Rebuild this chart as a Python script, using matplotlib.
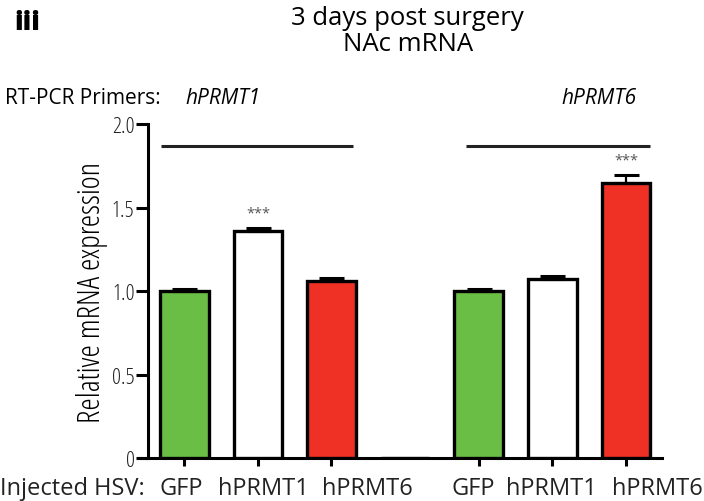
import numpy as np
import matplotlib.pyplot as plt
from matplotlib import rcParams
from matplotlib.transforms import blended_transform_factory

rcParams['font.family'] = 'sans-serif'
rcParams['font.sans-serif'] = ['Open Sans', 'DejaVu Sans']

# bar slots: two primer groups, slot 3 is the empty spacer between them
positions = [0, 1, 2, 3, 4, 5, 6]
injected = ['GFP', 'hPRMT1', 'hPRMT6', '', 'GFP', 'hPRMT1', 'hPRMT6']
means = [1.00, 1.36, 1.06, 0.0, 1.00, 1.07, 1.65]
sems = [0.012, 0.02, 0.016, 0.0, 0.012, 0.018, 0.045]
colors = ['#6abd45', 'white', '#ee3124', 'white', '#6abd45', 'white', '#ee3124']
stars = {1: '***', 6: '***'}
primers = ['hPRMT1', 'hPRMT6']
group_lines = [(-0.31, 2.29), (3.83, 6.32)]
line_y = 1.87
# the HSV names are set as a run of text under each group, not centred on ticks
label_x = [-0.04, 1.07, 2.49, None, 3.93, 4.99, 6.43]

fig = plt.figure(figsize=(7.04, 5.02), dpi=100)
ax = fig.add_axes([0.1974, 0.0857, 0.743, 0.665])

ax.bar(positions, means, width=0.66, color=colors, edgecolor='black',
       linewidth=2.4, zorder=3)
for x, m, e in zip(positions, means, sems):
    if e > 0:
        ax.errorbar(x, m, yerr=[[0], [e]], fmt='none', ecolor='black',
                    elinewidth=1.6, capsize=9, capthick=2.2, zorder=3)

for x, s in stars.items():
    ax.text(x, means[x] + sems[x] + 0.09, s, ha='center', va='center',
            fontsize=10.5, color='#555555')

for x0, x1 in group_lines:
    ax.plot([x0, x1], [line_y, line_y], color='#222222', lw=2.2,
            solid_capstyle='butt', clip_on=False)

ax.set_xlim(-0.615, 6.49)
ax.set_ylim(0, 2.0)

for side in ['top', 'right']:
    ax.spines[side].set_visible(False)
ax.spines['left'].set_position(('data', -0.497))
ax.spines['left'].set_linewidth(2.2)
ax.spines['bottom'].set_linewidth(2.2)

ax.set_yticks([0, 0.5, 1.0, 1.5, 2.0])
ax.set_yticklabels(['0', '0.5', '1.0', '1.5', '2.0'], color='#222222',
                   fontsize=16, fontstretch='condensed')
ax.tick_params(axis='y', direction='out', length=8.5, width=2.2, pad=1)

tick_pos = [p for p, lab in zip(positions, injected) if lab]
ax.set_xticks(tick_pos)
ax.set_xticklabels([])
ax.tick_params(axis='x', direction='out', length=6, width=2.2)

for lx, lab in zip(label_x, injected):
    if lab:
        ax.text(lx, -0.216, lab, fontsize=17, ha='center', va='baseline',
                color='#222222', clip_on=False)

ax.set_ylabel('Relative mRNA expression', fontsize=22.5,
              fontstretch='condensed', labelpad=3)

trans = blended_transform_factory(fig.transFigure, ax.transData)
ax.text(0.0, -0.216, 'Injected HSV:', transform=trans, fontsize=17,
        ha='left', va='baseline', color='#222222', clip_on=False)

ax.text(0.007, 2.16, 'RT-PCR Primers:', transform=trans, fontsize=15,
        ha='left', va='center', clip_on=False)
for x, name in zip([0.52, 5.63], primers):
    ax.text(x, 2.16, name, fontsize=15, style='italic', ha='center',
            va='center', clip_on=False)

fig.text(0.579, 0.963, '3 days post surgery', fontsize=18.5, ha='center',
         va='center')
fig.text(0.579, 0.911, 'NAc mRNA', fontsize=18.5, ha='center', va='center')
fig.text(0.02, 0.955, 'iii', fontsize=19, fontweight='black', ha='left',
         va='center')

fig.savefig('out.png', dpi=100)
